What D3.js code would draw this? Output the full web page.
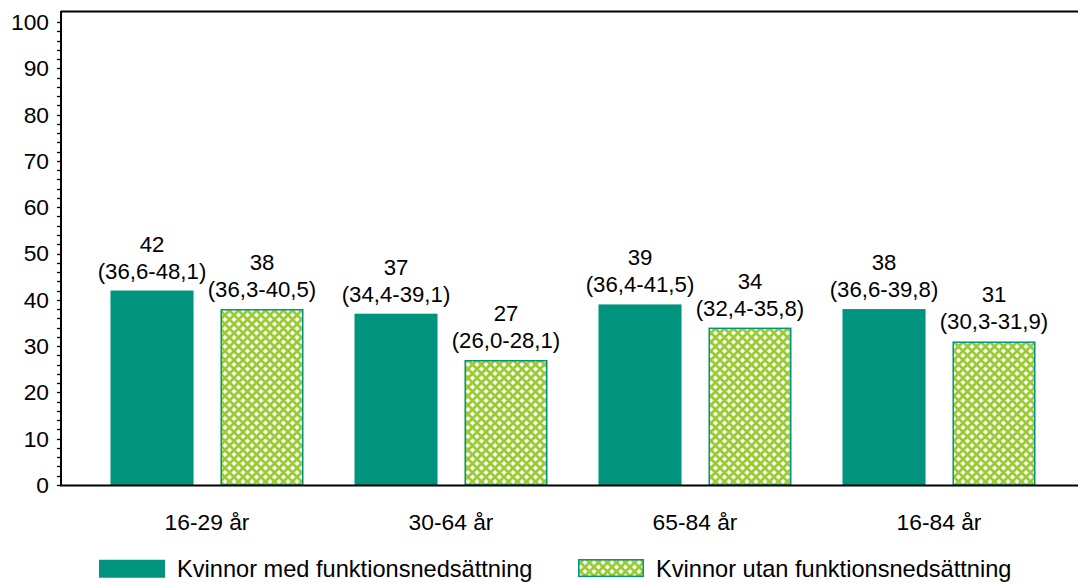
<!DOCTYPE html>
<html><head><meta charset="utf-8">
<script src="https://cdn.jsdelivr.net/npm/d3@7"></script>
<style>body{margin:0;background:#fff}svg{display:block;font-family:"Liberation Sans",Arial,sans-serif}</style>
</head><body><svg id="c" width="1078" height="583"></svg>
<script>
const categories = ["16-29 år","30-64 år","65-84 år","16-84 år"];
const seriesNames = ["Kvinnor med funktionsnedsättning","Kvinnor utan funktionsnedsättning"];
const withValues = [42,37,39,38];
const withCI = ["(36,6-48,1)","(34,4-39,1)","(36,4-41,5)","(36,6-39,8)"];
const withoutValues = [38,27,34,31];
const withoutCI = ["(36,3-40,5)","(26,0-28,1)","(32,4-35,8)","(30,3-31,9)"];
const yTicks = [0,10,20,30,40,50,60,70,80,90,100];

const teal = "#00947f", green = "#99cc33";
const FS = 22.8, LFS = 22.2;
const svg = d3.select("#c");
const defs = svg.append("defs");
const pat = defs.append("pattern").attr("id","lat").attr("patternUnits","userSpaceOnUse")
  .attr("width",9).attr("height",9);
pat.append("rect").attr("width",9).attr("height",9).attr("fill","#fff");
pat.append("path").attr("d","M-1,-1 L10,10 M-1,8 L1,10 M8,-1 L10,1").attr("stroke",green).attr("stroke-width",2.8);
pat.append("path").attr("d","M-1,10 L10,-1 M-1,1 L1,-1 M8,10 L10,8").attr("stroke",green).attr("stroke-width",2.8);

const y = d3.scaleLinear().domain([0,100]).range([485,22]);
const x0 = d3.scaleBand().domain(categories).range([85,1061]).paddingInner(0.209).paddingOuter(0.1045);
const x1 = d3.scaleBand().domain([0,1]).range([0,x0.bandwidth()]).paddingInner(0.245).paddingOuter(0);

const series = [
  {vals: withValues, ci: withCI, fill: teal, stroke: "none"},
  {vals: withoutValues, ci: withoutCI, fill: "url(#lat)", stroke: teal}
];

svg.append("line").attr("x1",61).attr("x2",1078).attr("y1",11.5).attr("y2",11.5).attr("stroke","#000").attr("stroke-width",2);

series.forEach((s,si)=>{
  const g = svg.append("g");
  categories.forEach((c,i)=>{
    const bx = x0(c)+x1(si), v = s.vals[i];
    g.append("rect").attr("x",bx+(si?0.75:0)).attr("y",y(v)+(si?0.75:0))
      .attr("width",x1.bandwidth()-(si?1.5:0)).attr("height",y(0)-y(v)-(si?0.75:0))
      .attr("fill",s.fill).attr("stroke",s.stroke).attr("stroke-width",1.5);
    const cx = bx + x1.bandwidth()/2;
    g.append("text").attr("text-anchor","middle").attr("font-size",LFS).attr("x",cx).attr("y",y(v)-39).text(v);
    g.append("text").attr("text-anchor","middle").attr("font-size",LFS).attr("x",cx).attr("y",y(v)-12).text(s.ci[i]);
  });
});

const yAxis = svg.append("g").attr("transform","translate(61,0)");
yAxis.append("line").attr("x1",0).attr("x2",0).attr("y1",11).attr("y2",486).attr("stroke","#000").attr("stroke-width",2);
d3.range(0,101,2).forEach(t=>{
  yAxis.append("line").attr("x1",-4).attr("x2",0).attr("y1",Math.round(y(t))+0.5).attr("y2",Math.round(y(t))+0.5).attr("stroke","#000").attr("stroke-width",1.3);
});
yTicks.forEach(t=>{
  yAxis.append("text").attr("x",-12).attr("y",y(t)).attr("dy","0.35em").attr("text-anchor","end").attr("font-size",FS).text(t);
});

svg.append("line").attr("x1",60).attr("x2",1078).attr("y1",485.5).attr("y2",485.5).attr("stroke","#000").attr("stroke-width",2);
categories.forEach(c=>{
  svg.append("text").attr("x",x0(c)+x0.bandwidth()/2).attr("y",522).attr("dy","0.35em").attr("text-anchor","middle").attr("font-size",FS).text(c);
});

const lg = [{x:99, fill:teal, stroke:"none"},{x:578, fill:"url(#lat)", stroke:teal}];
lg.forEach((l,i)=>{
  svg.append("rect").attr("x",l.x+(i?0.75:0)).attr("y",559.75).attr("width",66-(i?1.5:0)).attr("height",18-(i?1.5:0))
    .attr("fill",l.fill).attr("stroke",l.stroke).attr("stroke-width",1.5);
  svg.append("text").attr("x",l.x+78).attr("y",569).attr("dy","0.35em").attr("font-size",23.6).text(seriesNames[i]);
});
</script></body></html>
